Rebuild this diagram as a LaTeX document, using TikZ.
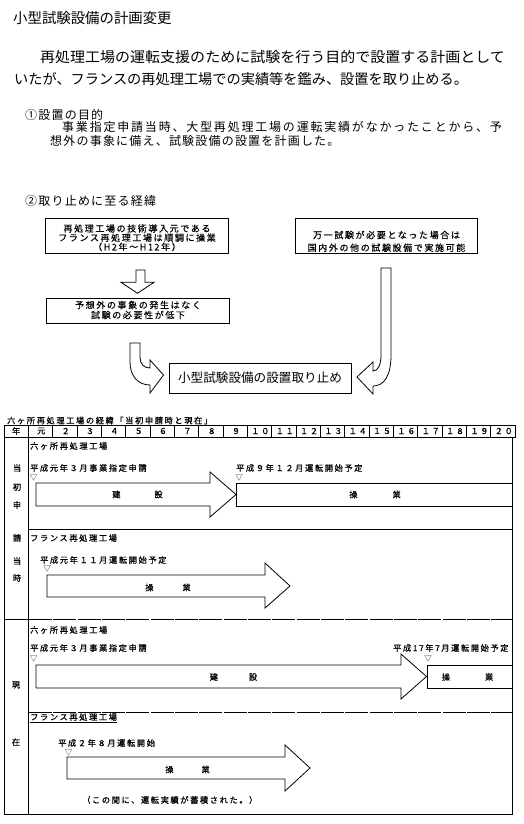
\documentclass[tikz,border=0pt]{standalone}
\usepackage{fontspec}
\usepackage{graphicx}
\setmainfont{Noto Sans CJK JP}
\newfontfamily\boxfont[LetterSpace=18,FakeBold=0.4]{Noto Sans CJK JP}
\newfontfamily\tabfont[LetterSpace=20,FakeBold=0.7]{Noto Sans CJK JP}
\newfontfamily\secfont[LetterSpace=10]{Noto Sans CJK JP}
\newfontfamily\secwfont[LetterSpace=15]{Noto Sans CJK JP}
\begin{document}
\begin{tikzpicture}[x=1pt,y=-1pt,
  txt/.style={inner sep=0pt, anchor=west},
  big/.style={font=\fontsize{14.4}{16}\selectfont},
  mid/.style={font=\secfont\fontsize{12}{14}\selectfont},
  midw/.style={font=\secwfont\fontsize{12}{14}\selectfont},
  tab/.style={inner sep=0pt, font=\tabfont\fontsize{8.2}{9}\selectfont},
  tri/.style={inner sep=0pt, font=\fontsize{7.5}{7.5}\selectfont},
  boxtext/.style={inner sep=0pt, align=center},
  framebox/.style={draw, line width=0.9pt, inner sep=0pt},
  blockarrow/.style={draw, fill=white, line width=0.8pt, line join=miter},
  grid/.style={line width=0.8pt},
  seg/.style={line width=0.8pt, dash pattern=on 22.84pt off 1.5pt},
]
\fill[white] (0,0) rectangle (524,824);
\useasboundingbox (0,0) rectangle (524,824);

% ---------- heading and text ----------
\node[txt, big] (title) at (13,18.5) {小型試験設備の計画変更};
\node[txt, big] (p1) at (40,57.5) {\scalebox{1.042}[1]{再処理工場の運転支援のために試験を行う目的で設置する計画として}};
\node[txt, font=\fontsize{14.2}{16}\selectfont] (p2) at (14,79) {いたが、フランスの再処理工場での実績等を鑑み、設置を取り止める。};

\node[txt, mid] (s1) at (25,114.5) {①設置の目的};
\node[txt, midw] (s1a) at (62,127) {事業指定申請当時、大型再処理工場の運転実績がなかったことから、予};
\node[txt, mid] (s1b) at (50,141) {想外の事象に備え、試験設備の設置を計画した。};

\node[txt, mid] (s2) at (25,200.8) {②取り止めに至る経緯};

% ---------- boxes ----------
\node[framebox, minimum width=183pt, minimum height=35pt] (b1) at (136.5,235.8) {};
\node[boxtext, font=\boxfont\fontsize{9}{9.2}\selectfont] (b1t) at (137,237.7)
  {再処理工場の技術導入元である\\フランス再処理工場は順調に操業\\（H2年〜H12年）};

\node[framebox, minimum width=183pt, minimum height=25pt] (b2) at (137.5,310.8) {};
\node[boxtext, font=\boxfont\fontsize{9}{10}\selectfont] (b2t) at (138,310)
  {予想外の事象の発生はなく\\試験の必要性が低下};

\node[framebox, minimum width=182pt, minimum height=35pt] (b3) at (386,235.8) {};
\node[boxtext, font=\boxfont\fontsize{9}{12.7}\selectfont] (b3t) at (386.5,241.3)
  {万一試験が必要となった場合は\\国内外の他の試験設備で実施可能};

\node[framebox, minimum width=182pt, minimum height=30pt, font=\fontsize{12.6}{14}\selectfont] (b4) at (260,378)
  {小型試験設備の設置取り止め};

% ---------- block arrows of the flow ----------
\draw[blockarrow] (136,270) -- (145,270) -- (145,282.3) -- (154,282.3) -- (137.5,293.3)
  -- (121,282.3) -- (136,282.3) -- cycle;

\draw[blockarrow] (130,343) -- (140,343) -- (140,357)
  .. controls (140,364) and (144,368) .. (150,368) -- (150,360) -- (163.5,375)
  -- (150,393) -- (150,385) .. controls (138,385) and (130,376) .. (130,362) -- cycle;

\draw[blockarrow] (381,268) -- (391,268) -- (391,355)
  .. controls (391,376) and (384,386) .. (373,386) -- (373,394) -- (357,377)
  -- (373,362) -- (373,371) .. controls (378,371) and (381,365) .. (381,355) -- cycle;

% ---------- table ----------
\node[tab, anchor=west] (cap) at (7,420.5) {六ヶ所再処理工場の経緯「当初申請時と現在」};

\draw[grid] (4,425) rectangle (515,437);
\foreach \i in {1,...,20} \draw[grid] ({4+24.34*\i},425) -- ({4+24.34*\i},437);
\node[tab] (h0) at ({4+24.34*0.5},431) {年};
\foreach \lab [count=\i] in {元,２,３,４,５,６,７,８,９,１０,１１,１２,１３,１４,１５,１６,１７,１８,１９,２０}
  \node[tab] (h\i) at ({4+24.34*(\i+0.5)+0.8},431) {\lab};

\draw[grid] (4,437) -- (4,814) -- (512.5,814) -- (512.5,437);
\draw[grid] (28.34,437) -- (28.34,814);
\draw[grid] (28.34,529) -- (512.5,529);
\draw[grid] (4,619) -- (28.34,619);
\draw[seg] (29,619) -- (512.5,619);
\draw[seg] (29,712) -- (512.5,712);

% left column labels
\node[tab] (v1) at (17,468) {当};
\node[tab] (v2) at (17,487) {初};
\node[tab] (v3) at (17,505) {申};
\node[tab] (v4) at (17,538) {請};
\node[tab] (v5) at (17,561) {当};
\node[tab] (v6) at (17,578) {時};
\node[tab] (v7) at (16,685) {現};
\node[tab] (v8) at (16,742) {在};

% upper: Rokkasho
\node[tab, anchor=west] (r1) at (30,446) {六ヶ所再処理工場};
\node[tab, anchor=west] (r1a) at (30,468) {平成元年３月事業指定申請};
\node[tri] (r1m) at (33.5,477.5) {▽};
\draw[blockarrow] (36,483) -- (210,483) -- (210,472) -- (236,494.5) -- (210,517) -- (210,506) -- (36,506) -- cycle;
\node[tab] (r1k) at (137.5,494.5) {建\hspace{34pt}設};
\node[tab, anchor=west] (r1b) at (236,468) {平成９年１２月運転開始予定};
\node[tri] (r1n) at (239,477.5) {▽};
\draw[grid] (512.5,483) -- (236,483) -- (236,506) -- (512.5,506);
\node[tab] (r1s) at (375,494.5) {操\hspace{35pt}業};

% upper: France
\node[tab, anchor=west] (f1) at (30,538) {フランス再処理工場};
\node[tab, anchor=west] (f1a) at (40,560) {平成元年１１月運転開始予定};
\node[tri] (f1m) at (47,569) {▽};
\draw[blockarrow] (47,575) -- (265,575) -- (265,563) -- (290,586) -- (265,608) -- (265,597) -- (47,597) -- cycle;
\node[tab] (f1s) at (168,587.5) {操\hspace{29pt}業};

% lower: Rokkasho
\node[tab, anchor=west] (r2) at (30,630) {六ヶ所再処理工場};
\node[tab, anchor=west] (r2a) at (30,648) {平成元年３月事業指定申請};
\node[tri] (r2m) at (33.5,658.5) {▽};
\draw[blockarrow] (36,665) -- (401,665) -- (401,654) -- (426.5,676.5) -- (401,699) -- (401,688) -- (36,688) -- cycle;
\node[tab] (r2k) at (233.5,677) {建\hspace{31pt}設};
\node[tab, anchor=west] (r2b) at (393,648) {平成17年7月運転開始予定};
\node[tri] (r2n) at (428,659) {▽};
\draw[grid] (512.5,665) -- (427,665) -- (427,688) -- (512.5,688);
\node[tab] (r2s) at (467.5,677) {操\hspace{35pt}業};

% lower: France
\node[tab, anchor=west] (f2) at (30,718) {\underline{フランス再処理工場}};
\node[tab, anchor=west] (f2a) at (58,743) {平成２年８月運転開始};
\node[tri] (f2m) at (68.5,753) {▽};
\draw[blockarrow] (67,757) -- (285,757) -- (285,745) -- (310,768) -- (285,791) -- (285,779) -- (67,779) -- cycle;
\node[tab] (f2s) at (187.5,769.5) {操\hspace{28pt}業};
\node[tab, anchor=west] (f2n) at (82,800) {（この間に、運転実績が蓄積された。）};

\end{tikzpicture}
\end{document}
